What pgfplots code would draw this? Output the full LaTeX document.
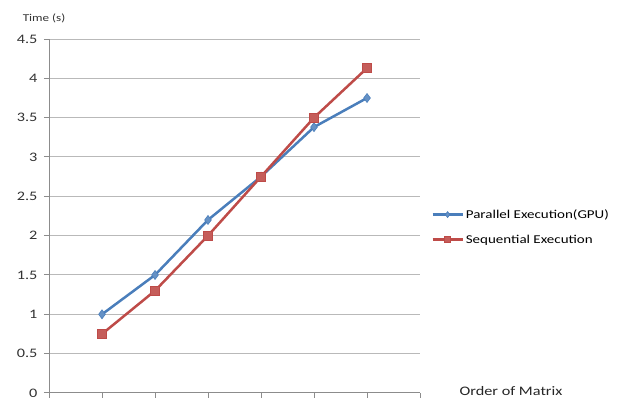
\documentclass[border=0pt]{standalone}
\usepackage{pgfplots}
\pgfplotsset{compat=1.18}
\usepackage{fontspec}
\setmainfont{Carlito}[FakeStretch=1.25]
\definecolor{gpublue}{RGB}{74,126,187}
\definecolor{seqred}{RGB}{190,75,72}
\definecolor{axgray}{RGB}{140,140,140}
\definecolor{gridgray}{RGB}{185,185,185}
\begin{document}
\begin{tikzpicture}[x=1pt,y=1pt]
\useasboundingbox (0,0) rectangle (621,401);
\begin{axis}[
  at={(49pt,8pt)}, anchor=south west,
  scale only axis, width=371pt, height=354pt,
  xmin=0, xmax=7, ymin=0, ymax=4.5,
  xtick={0,1,...,7}, xticklabels={},
  ytick={0,0.5,...,4.5},
  yticklabel style={/pgf/number format/fixed, /pgf/number format/precision=1, xshift=-3pt},
  /pgf/number format/assume math mode=true,
  tick label style={font=\fontsize{13}{14}\selectfont, text=black!80},
  tick align=outside, major tick length=5pt,
  tick style={axgray, line width=1pt},
  axis x line*=bottom, axis y line*=left,
  axis line style={axgray, line width=1pt, -},
  ymajorgrids, grid style={gridgray, line width=1pt},
  legend style={at={(1.03,0.469)}, anchor=west, draw=none, fill=none,
    font=\fontsize{12}{14}\selectfont, row sep=11pt, inner sep=0pt,
    nodes={inner xsep=2pt}},
  legend cell align=left,
  legend image code/.code={%
    \draw[mark repeat=2, mark phase=2, mark size=3pt]
      plot coordinates {(0pt,0pt) (15pt,0pt) (30pt,0pt)};},
]
\addplot[gpublue, line width=2.5pt, mark=diamond*, mark size=4.5pt,
  mark options={fill=gpublue!85!white, line width=0.6pt}]
  coordinates {(1,1.0) (2,1.5) (3,2.2) (4,2.75) (5,3.38) (6,3.75)};
\addlegendentry{Parallel Execution(GPU)}
\addplot[seqred, line width=2.5pt, mark=square*, mark size=4.5pt,
  mark options={fill=seqred!90!white, line width=0.6pt}]
  coordinates {(1,0.75) (2,1.3) (3,2.0) (4,2.75) (5,3.5) (6,4.13)};
\addlegendentry{Sequential Execution}
\end{axis}
\node[font=\fontsize{10.5}{11}\selectfont, text=black!80] at (44,383) {Time (s)};
\node[font=\fontsize{13}{14}\selectfont, text=black!85] at (511,10) {Order of Matrix};
\end{tikzpicture}
\end{document}
